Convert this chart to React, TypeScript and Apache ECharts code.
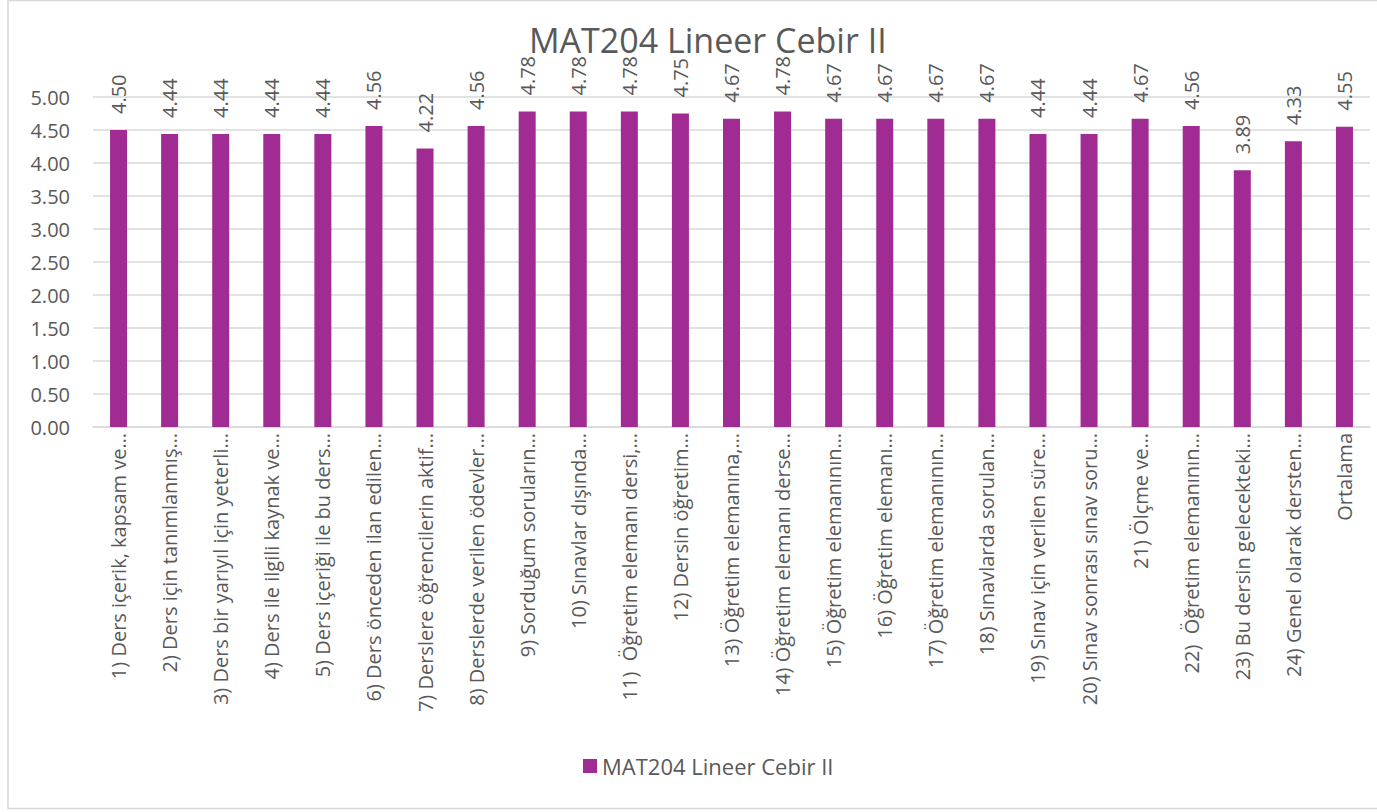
import React, { useEffect, useRef } from "react";
import * as echarts from "echarts";

const TITLE = "MAT204 Lineer Cebir II";
const SERIES_NAME = "MAT204 Lineer Cebir II";

const categories: string[] = [
  "1) Ders içerik, kapsam ve…",
  "2) Ders için tanımlanmış…",
  "3) Ders bir yarıyıl için yeterli…",
  "4) Ders ile ilgili kaynak ve…",
  "5) Ders içeriği ile bu ders…",
  "6) Ders önceden ilan edilen…",
  "7) Derslere öğrencilerin aktif…",
  "8) Derslerde verilen ödevler…",
  "9) Sorduğum soruların…",
  "10) Sınavlar dışında…",
  "11)  Öğretim elemanı dersi,…",
  "12) Dersin öğretim…",
  "13) Öğretim elemanına,…",
  "14) Öğretim elemanı derse…",
  "15) Öğretim elemanının…",
  "16) Öğretim elemanı…",
  "17) Öğretim elemanının…",
  "18) Sınavlarda sorulan…",
  "19) Sınav için verilen süre…",
  "20) Sınav sonrası sınav soru…",
  "21) Ölçme ve…",
  "22)  Öğretim elemanının…",
  "23) Bu dersin gelecekteki…",
  "24) Genel olarak dersten…",
  "Ortalama",
];

const values: number[] = [
  4.5, 4.44, 4.44, 4.44, 4.44, 4.56, 4.22, 4.56, 4.78, 4.78, 4.78, 4.75, 4.67,
  4.78, 4.67, 4.67, 4.67, 4.67, 4.44, 4.44, 4.67, 4.56, 3.89, 4.33, 4.55,
];

const FONT = "'Open Sans', sans-serif";
const TEXT = "#595959";
const BAR = "#A02B93";
const GRID = "#D9D9D9";

export default function App() {
  const ref = useRef<HTMLDivElement>(null);
  useEffect(() => {
    if (!ref.current) return;
    const chart = echarts.init(ref.current, undefined, { renderer: "svg" });
    chart.setOption({
      animation: false,
      backgroundColor: "#ffffff",
      textStyle: { fontFamily: FONT, color: TEXT },
      title: {
        text: TITLE,
        left: 524,
        top: 18,
        textStyle: { fontFamily: FONT, fontSize: 34, fontWeight: "normal", color: TEXT },
        z: 10,
      },
      legend: {
        bottom: 30,
        left: 578,
        icon: "rect",
        itemWidth: 14,
        itemHeight: 14,
        itemGap: 6,
        textStyle: { fontFamily: FONT, fontSize: 22, color: TEXT },
        data: [SERIES_NAME],
      },
      grid: { left: 93, right: 7, top: 97, bottom: 385, containLabel: false },
      xAxis: {
        type: "category",
        data: categories,
        axisLine: { show: true, lineStyle: { color: GRID, width: 1.5 } },
        axisTick: { show: false },
        axisLabel: {
          rotate: 90,
          interval: 0,
          margin: 6,
          fontFamily: FONT,
          fontSize: 20,
          color: TEXT,
        },
      },
      yAxis: {
        type: "value",
        min: 0,
        max: 5,
        interval: 0.5,
        axisLine: { show: false },
        axisTick: { show: false },
        splitLine: { show: true, lineStyle: { color: GRID, width: 1.5 } },
        axisLabel: {
          margin: 23,
          fontFamily: FONT,
          fontSize: 20,
          color: TEXT,
          formatter: (v: number) => v.toFixed(2),
        },
      },
      series: [
        {
          name: SERIES_NAME,
          type: "bar",
          data: values,
          barWidth: 17,
          itemStyle: { color: BAR },
          label: {
            show: true,
            position: "top",
            rotate: 90,
            align: "left",
            verticalAlign: "middle",
            distance: 16,
            fontFamily: FONT,
            fontSize: 20,
            color: TEXT,
            formatter: (p: any) => Number(p.value).toFixed(2),
          },
        },
      ],
      graphic: [
        {
          type: "rect",
          shape: { x: 8, y: 0.5, width: 1400, height: 808 },
          style: { fill: "none", stroke: GRID, lineWidth: 1.5 },
          silent: true,
          z: -1,
        },
      ],
    });
    return () => chart.dispose();
  }, []);
  return (
    <div
      ref={ref}
      style={{ position: "fixed", left: 0, top: 0, width: 1377, height: 812 }}
    />
  );
}
